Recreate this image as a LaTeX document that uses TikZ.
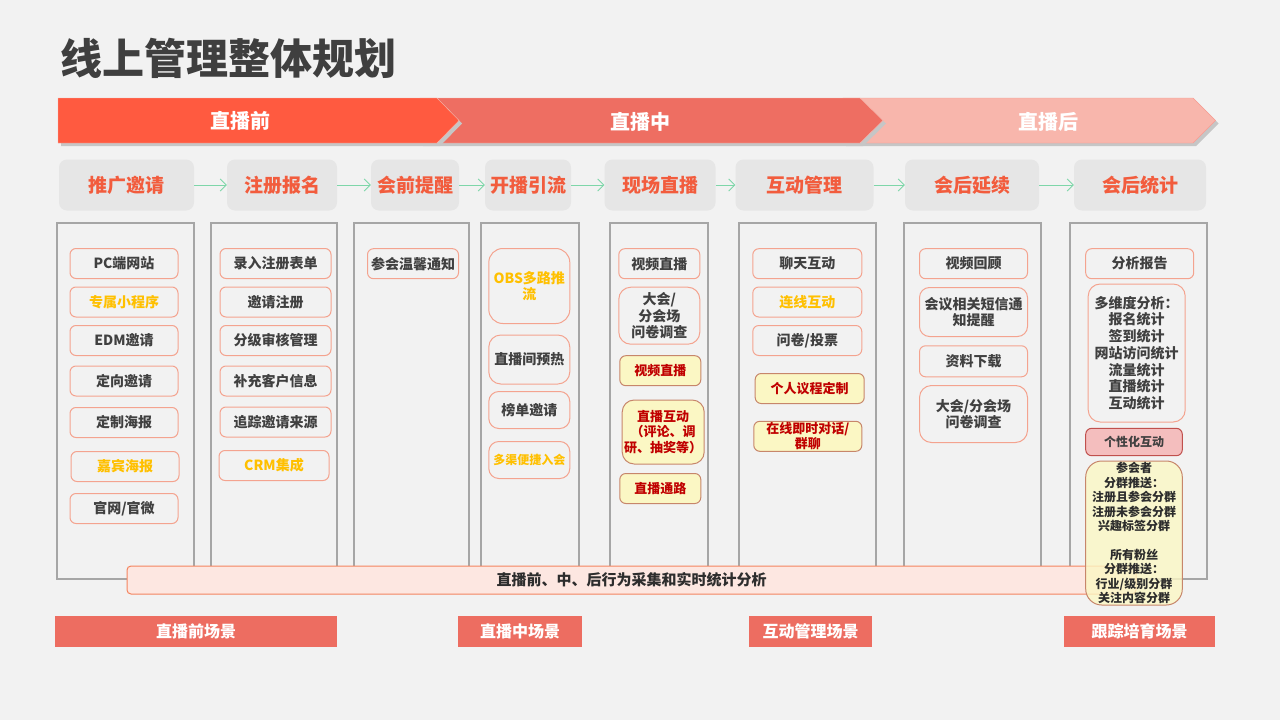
\documentclass[tikz,border=0pt]{standalone}
\usepackage{fontspec}
\setmainfont{Noto Sans CJK SC}
\usetikzlibrary{arrows.meta}

\definecolor{bggray}{HTML}{F2F2F2}
\definecolor{titletext}{HTML}{3F3F3F}
\definecolor{phaseA}{HTML}{FF5A40}
\definecolor{phaseB}{HTML}{EE6E62}
\definecolor{phaseC}{HTML}{F8B6AC}
\definecolor{steptext}{HTML}{F25C3D}
\definecolor{stepfill}{HTML}{E6E6E6}
\definecolor{colline}{HTML}{A6A6A6}
\definecolor{itemline}{HTML}{F4A38F}
\definecolor{darktext}{HTML}{404040}
\definecolor{goldtext}{HTML}{FFC000}
\definecolor{hotfill}{HTML}{FBF7C4}
\definecolor{hotline}{HTML}{C7866B}
\definecolor{hottext}{HTML}{C00000}
\definecolor{pinkfill}{HTML}{F4BEBE}
\definecolor{pinkline}{HTML}{C0504D}
\definecolor{barfill}{HTML}{FDE7E1}
\definecolor{barline}{HTML}{F4845F}
\definecolor{scenefill}{HTML}{ED6D61}
\definecolor{flowgreen}{HTML}{7ED6A9}

\newcommand{\sizebf}[2]{\fontsize{#1}{#2}\selectfont\bfseries}

\begin{document}
\begin{tikzpicture}[x=1pt,y=-1pt,
   stepbox/.style={fill=stepfill,rounded corners=8,minimum height=51,inner sep=0,text=steptext,font=\sizebf{19}{21}},
   flow/.style={draw=flowgreen,line width=0.9,-{Straight Barb[length=6,width=12]}},
   column/.style={draw=colline,line width=1.3},
   item/.style={draw=itemline,line width=1,rounded corners=6,fill=bggray,inner sep=0,align=center,
      text=darktext,font=\sizebf{14}{16.7},minimum height=30},
   golditem/.style={item,text=goldtext},
   hotitem/.style={item,fill=hotfill,draw=hotline,text=hottext,font=\sizebf{13}{15.7}},
   phase/.style={text=white,font=\sizebf{20}{22}},
   scene/.style={fill=scenefill,text=white,inner sep=0,minimum height=31,font=\sizebf{16}{18}}]
   \useasboundingbox (0,0) rectangle (1280,720);
   \fill[bggray] (0,0) rectangle (1280,720);

   \node[anchor=west,inner sep=0,text=titletext,font=\sizebf{42}{46}] (title) at (60,58) {线上管理整体规划};

   % phases
   \fill[gray!45] (846,101) -- (1196,101) -- (1218.5,123.5) -- (1196,146) -- (846,146) -- cycle;
   \filldraw[fill=phaseC,draw=phaseC!85!red] (843,98) -- (1193,98) -- (1215.5,120.5) -- (1193,143) -- (843,143) -- cycle;
   \fill[gray!45] (423,101) -- (863,101) -- (886,123.5) -- (863,146) -- (423,146) -- cycle;
   \filldraw[fill=phaseB,draw=phaseC] (420,98) -- (860,98) -- (883,120.5) -- (860,143) -- (420,143) -- cycle;
   \fill[gray!45] (61,101) -- (440,101) -- (462,123.5) -- (440,146) -- (61,146) -- cycle;
   \filldraw[fill=phaseA,draw=phaseC] (58,98) -- (437,98) -- (459,120.5) -- (437,143) -- (58,143) -- cycle;
   \node[phase] (pre) at (240,121) {直播前};
   \node[phase] (mid) at (640,122) {直播中};
   \node[phase] (post) at (1048,122) {直播后};

   % steps
   \node[stepbox,minimum width=135] (s1) at (126.5,185) {推广邀请};
   \node[stepbox,minimum width=110] (s2) at (282,185) {注册报名};
   \node[stepbox,minimum width=88] (s3) at (415,185) {会前提醒};
   \node[stepbox,minimum width=86] (s4) at (528,185) {开播引流};
   \node[stepbox,minimum width=111] (s5) at (660,185) {现场直播};
   \node[stepbox,minimum width=138] (s6) at (804.5,185) {互动管理};
   \node[stepbox,minimum width=134] (s7) at (972,185) {会后延续};
   \node[stepbox,minimum width=132] (s8) at (1140,185) {会后统计};
   \foreach \a/\b in {s1/s2,s2/s3,s3/s4,s4/s5,s5/s6,s6/s7,s7/s8}
      \draw[flow] (\a) -- (\b);

   % columns
   \draw[column] (57,223) rectangle (194,579);
   \draw[column] (211,223) rectangle (337,579);
   \draw[column] (354,223) rectangle (469,579);
   \draw[column] (481,223) rectangle (579,579);
   \draw[column] (610,223) rectangle (708,579);
   \draw[column] (739,223) rectangle (876,579);
   \draw[column] (904,223) rectangle (1041,579);
   \draw[column] (1070,223) rectangle (1207,579);

   % column 1
   \node[item,minimum width=108] (c1a) at (124,263.5) {PC端网站};
   \node[golditem,minimum width=108] (c1b) at (124,302) {专属小程序};
   \node[item,minimum width=108] (c1c) at (124,340.5) {EDM邀请};
   \node[item,minimum width=108] (c1d) at (124,381) {定向邀请};
   \node[item,minimum width=108] (c1e) at (124,422.5) {定制海报};
   \node[golditem,minimum width=108] (c1f) at (125,466.5) {嘉宾海报};
   \node[item,minimum width=108] (c1g) at (124,508.5) {官网/官微};

   % column 2
   \node[item,minimum width=111] (c2a) at (275.5,263.5) {录入注册表单};
   \node[item,minimum width=111] (c2b) at (275.5,302) {邀请注册};
   \node[item,minimum width=111] (c2c) at (275.5,340.5) {分级审核管理};
   \node[item,minimum width=111] (c2d) at (275.5,381) {补充客户信息};
   \node[item,minimum width=111] (c2e) at (275.5,422) {追踪邀请来源};
   \node[golditem,minimum width=110] (c2f) at (274,465.5) {CRM集成};

   % column 3
   \node[item,minimum width=91] (c3a) at (413,263.7) {参会温馨通知};

   % column 4
   \node[golditem,minimum width=81,minimum height=75,rounded corners=14] (c4a) at (529.3,286) {OBS多路推\\流};
   \node[item,minimum width=81,minimum height=49,rounded corners=12] (c4b) at (529.3,359.5) {直播间预热};
   \node[item,minimum width=81,minimum height=37,rounded corners=10] (c4c) at (529.3,410) {榜单邀请};
   \node[golditem,minimum width=81,minimum height=37,rounded corners=10,font=\sizebf{12}{14}] (c4d) at (529.3,460) {多渠便捷入会};

   % column 5
   \node[item,minimum width=81] (c5a) at (659.3,263.7) {视频直播};
   \node[item,minimum width=81,minimum height=57,rounded corners=12] (c5b) at (659.3,315.7) {大会/\\分会场\\问卷调查};
   \node[hotitem,minimum width=81] (c5c) at (660.3,370.7) {视频直播};
   \node[hotitem,minimum width=82,minimum height=64,rounded corners=12] (c5d) at (663.2,432) {直播互动\\（评论、调\\研、抽奖等）};
   \node[hotitem,minimum width=81] (c5e) at (660.3,488.5) {直播通路};

   % column 6
   \node[item,minimum width=109] (c6a) at (807.3,263.7) {聊天互动};
   \node[golditem,minimum width=109] (c6b) at (807.3,302) {连线互动};
   \node[item,minimum width=109] (c6c) at (807.3,340.5) {问卷/投票};
   \node[hotitem,minimum width=109] (c6d) at (809.7,388.5) {个人议程定制};
   \node[hotitem,minimum width=108,font=\sizebf{13}{15}] (c6e) at (807.8,436.3) {在线即时对话/\\群聊};

   % column 7
   \node[item,minimum width=108] (c7a) at (973.5,263.7) {视频回顾};
   \node[item,minimum width=108,minimum height=49,rounded corners=10] (c7b) at (973.5,312) {会议相关短信通\\知提醒};
   \node[item,minimum width=108,minimum height=31] (c7c) at (973.5,361.3) {资料下载};
   \node[item,minimum width=108,minimum height=57,rounded corners=12] (c7d) at (973.5,414) {大会/分会场\\问卷调查};

   % column 8
   \node[item,minimum width=108] (c8a) at (1139.7,263.7) {分析报告};
   \node[item,minimum width=97,minimum height=138,rounded corners=12] (c8b) at (1136.7,353)
      {多维度分析：\\报名统计\\签到统计\\网站访问统计\\流量统计\\直播统计\\互动统计};
   \node[item,fill=pinkfill,draw=pinkline,minimum width=96.6,minimum height=27.4,font=\sizebf{12}{14}] (c8c) at (1134,442) {个性化互动};

   % statistics bar
   \node[draw=barline,fill=barfill,line width=1,rounded corners=4,minimum width=1009,minimum height=28,inner sep=0,
      text=darktext!70!black,font=\sizebf{15}{17}] (stats) at (631.5,580) {直播前、中、后行为采集和实时统计分析};

   \node[item,fill=hotfill,draw=hotline,fill opacity=0.8,text opacity=1,minimum width=96.6,minimum height=144,
      rounded corners=16,text=darktext!70!black,font=\sizebf{12}{14.4}] (c8d) at (1134,533)
      {参会者\\分群推送：\\注册且参会分群\\注册未参会分群\\兴趣标签分群\\[14.4pt]所有粉丝\\分群推送：\\行业/级别分群\\关注内容分群};

   % scenes
   \node[scene,minimum width=281.5] (sc1) at (196,631.5) {直播前场景};
   \node[scene,minimum width=124] (sc2) at (520,631.5) {直播中场景};
   \node[scene,minimum width=123] (sc3) at (810.5,631.5) {互动管理场景};
   \node[scene,minimum width=151] (sc4) at (1139.5,631.5) {跟踪培育场景};
\end{tikzpicture}
\end{document}
